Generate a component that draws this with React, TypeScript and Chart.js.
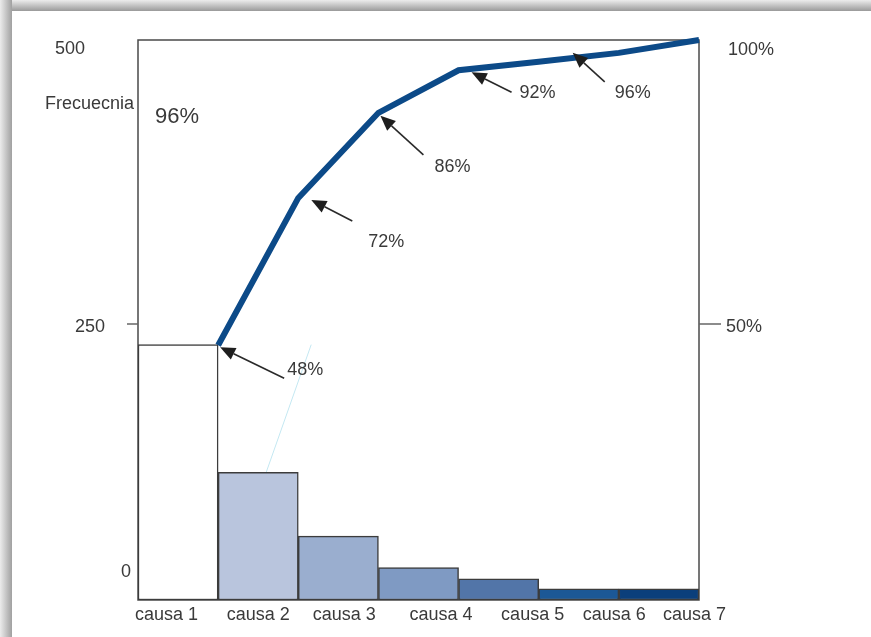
import React, { useEffect, useRef } from 'react';
import { Chart, registerables } from 'chart.js';

Chart.register(...registerables);

// ---- data ----
const categories = ['causa 1', 'causa 2', 'causa 3', 'causa 4', 'causa 5', 'causa 6', 'causa 7'];
const frequencies = [228, 114, 57, 29, 19, 10, 10];
const cumulativePercent = [45.5, 71.8, 87.0, 94.6, 96.1, 97.7, 100];
const cumulativeLabels = ['48%', '72%', '86%', '92%', '96%'];
const barColors = ['#ffffff', '#b9c5dd', '#9aaecf', '#7f9ac3', '#5275a8', '#1c5896', '#0b3f7b'];
const leftTicks = [0, 250, 500];
const leftTickLabels = ['0', '250', '500'];
const rightTicks = [50, 100];
const rightTickLabels = ['50%', '100%'];
const axisTitle = 'Frecuecnia';
const cornerNote = '96%';

const FONT = '"Liberation Sans", Arial, Helvetica, sans-serif';
const TEXT = '#3a3a3a';

function drawArrow(ctx: CanvasRenderingContext2D, tx: number, ty: number, fx: number, fy: number) {
  const ang = Math.atan2(ty - fy, tx - fx);
  const len = 15;
  const hw = 6.5;
  const bx = tx - Math.cos(ang) * len;
  const by = ty - Math.sin(ang) * len;
  ctx.save();
  ctx.strokeStyle = '#2a2a2a';
  ctx.fillStyle = '#1e1e1e';
  ctx.lineWidth = 1.6;
  ctx.beginPath();
  ctx.moveTo(fx, fy);
  ctx.lineTo(bx, by);
  ctx.stroke();
  ctx.beginPath();
  ctx.moveTo(tx, ty);
  ctx.lineTo(bx + Math.sin(ang) * hw, by - Math.cos(ang) * hw);
  ctx.lineTo(bx - Math.sin(ang) * hw, by + Math.cos(ang) * hw);
  ctx.closePath();
  ctx.fill();
  ctx.restore();
}

const decorPlugin = {
  id: 'decor',
  beforeDatasetsDraw(chart: any) {
    const { ctx, chartArea: a } = chart;
    ctx.save();
    ctx.strokeStyle = '#4a4a4a';
    ctx.lineWidth = 1.5;
    ctx.strokeRect(a.left, a.top, a.right - a.left, a.bottom - a.top);
    // faint cyan stroke
    ctx.strokeStyle = '#c4e8f2';
    ctx.lineWidth = 1;
    const xs = chart.scales.x;
    const ys = chart.scales.y;
    const b2 = xs.getPixelForValue(1);
    ctx.beginPath();
    ctx.moveTo(b2 + 8, ys.getPixelForValue(frequencies[1]));
    ctx.lineTo(b2 + 53, ys.getPixelForValue(frequencies[0]));
    ctx.stroke();
    ctx.restore();
  },
  afterDraw(chart: any) {
    const { ctx, chartArea: a } = chart;
    const ys = chart.scales.y;
    const yr = chart.scales.yr;
    const xs = chart.scales.x;
    ctx.save();
    ctx.font = `18px ${FONT}`;
    ctx.fillStyle = TEXT;
    ctx.textBaseline = 'middle';

    // left ticks
    const leftPos = [
      { cx: 126, dy: -28, mark: false },
      { cx: 90, dy: 7, mark: true },
      { cx: 70, dy: 9, mark: false },
    ];
    ctx.textAlign = 'center';
    leftTicks.forEach((v, i) => {
      const y = ys.getPixelForValue(v);
      ctx.fillText(leftTickLabels[i], leftPos[i].cx, y + leftPos[i].dy);
      if (leftPos[i].mark) {
        ctx.strokeStyle = '#666';
        ctx.lineWidth = 1.5;
        ctx.beginPath();
        ctx.moveTo(a.left - 11, y + 4);
        ctx.lineTo(a.left, y + 4);
        ctx.stroke();
      }
    });

    // right ticks
    ctx.textAlign = 'left';
    const rightPos = [
      { dx: 27, dy: 7, mark: true },
      { dx: 29, dy: 10, mark: false },
    ];
    rightTicks.forEach((v, i) => {
      const y = yr.getPixelForValue(v);
      ctx.fillText(rightTickLabels[i], a.right + rightPos[i].dx, y + rightPos[i].dy);
      if (rightPos[i].mark) {
        ctx.strokeStyle = '#666';
        ctx.lineWidth = 1.5;
        ctx.beginPath();
        ctx.moveTo(a.right, y + 4);
        ctx.lineTo(a.right + 22, y + 4);
        ctx.stroke();
      }
    });

    // category labels
    ctx.textAlign = 'center';
    const shift = [-11.5, 0, 6, 22.5, 34, 35.5, 35.5];
    categories.forEach((c, i) => {
      ctx.fillText(c, xs.getPixelForValue(i) + shift[i], a.bottom + 15);
    });

    // titles
    ctx.textAlign = 'left';
    ctx.fillText(axisTitle, 45, 104);
    ctx.font = `22px ${FONT}`;
    ctx.fillText(cornerNote, 155, 117);

    // arrows + cumulative labels
    ctx.font = `18px ${FONT}`;
    const meta = chart.getDatasetMeta(1);
    const offs = [
      { tip: [2, 2], tail: [66, 33], lab: [69, 25] },
      { tip: [13, 2], tail: [54, 23], lab: [70, 44] },
      { tip: [2, 3], tail: [45, 42], lab: [56, 54] },
      { tip: [13, 2], tail: [53, 22], lab: [61, 23] },
      { tip: [34, -9], tail: [66, 20], lab: [76, 31] },
    ];
    cumulativeLabels.forEach((lbl, i) => {
      const p = meta.data[i];
      const o = offs[i];
      drawArrow(ctx, p.x + o.tip[0], p.y + o.tip[1], p.x + o.tail[0], p.y + o.tail[1]);
      ctx.fillStyle = TEXT;
      ctx.textAlign = 'left';
      ctx.fillText(lbl, p.x + o.lab[0], p.y + o.lab[1]);
    });
    ctx.restore();
  },
};

export default function App() {
  const ref = useRef<HTMLCanvasElement | null>(null);

  useEffect(() => {
    document.body.style.margin = '0';
    const canvas = ref.current;
    if (!canvas) return;
    const chart = new Chart(canvas, {
      type: 'bar',
      data: {
        labels: categories,
        datasets: [
          {
            type: 'bar',
            data: frequencies,
            backgroundColor: barColors,
            borderColor: '#3c3c3c',
            borderWidth: 1.5,
            borderSkipped: false,
            barPercentage: 1,
            categoryPercentage: 1,
            grouped: false,
            xAxisID: 'x',
            yAxisID: 'y',
            order: 2,
          } as any,
          {
            type: 'line',
            data: cumulativePercent.map((v, i) => ({ x: i + 1, y: v })),
            borderColor: '#0c4a88',
            borderWidth: 6,
            pointRadius: 0,
            tension: 0,
            borderCapStyle: 'butt',
            borderJoinStyle: 'miter',
            xAxisID: 'xl',
            yAxisID: 'yr',
            clip: false,
            order: 1,
          } as any,
        ],
      },
      options: {
        responsive: false,
        animation: false,
        devicePixelRatio: 1,
        layout: { padding: { left: 138, top: 40, right: 172, bottom: 37 } },
        plugins: { legend: { display: false }, tooltip: { enabled: false } },
        scales: {
          x: { type: 'category', display: false, offset: true },
          xl: { type: 'linear', display: false, min: 0, max: 7, offset: false, grid: { offset: false } },
          y: { type: 'linear', display: false, min: 0, max: 500 },
          yr: { type: 'linear', display: false, min: 0, max: 100, position: 'right' },
        },
      },
      plugins: [decorPlugin],
    });
    return () => chart.destroy();
  }, []);

  return (
    <div style={{ position: 'fixed', left: 0, top: 0, width: 871, height: 637, background: '#fff', overflow: 'hidden' }}>
      <canvas ref={ref} width={871} height={637} style={{ position: 'absolute', left: 0, top: 0, width: 871, height: 637 }} />
      <div style={{ position: 'absolute', left: 0, top: 0, width: 871, height: 11, background: 'linear-gradient(to bottom, #ececec, #9a9a9a)' }} />
      <div style={{ position: 'absolute', left: 0, top: 0, width: 12, height: 637, background: 'linear-gradient(to right, #ececec, #a0a0a0)' }} />
    </div>
  );
}
